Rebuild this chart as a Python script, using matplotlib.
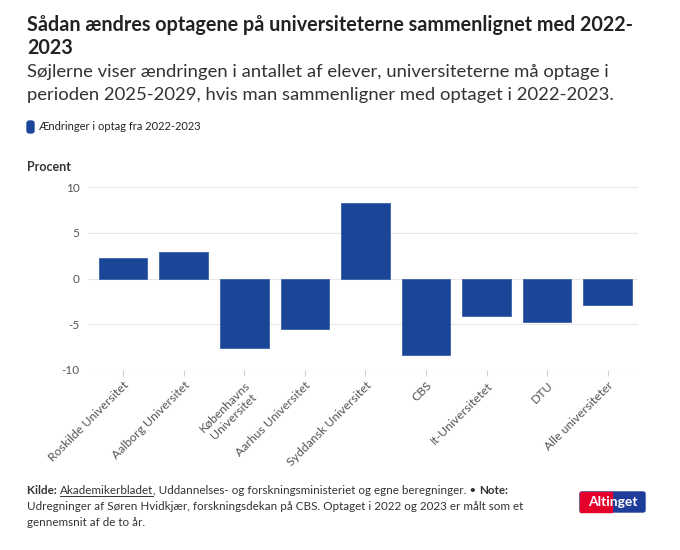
import matplotlib
matplotlib.use('Agg')
import matplotlib.pyplot as plt
from matplotlib.patches import Rectangle, FancyBboxPatch
from matplotlib.lines import Line2D

plt.rcParams['font.family'] = ['Lato', 'DejaVu Sans']

# data
categories = ['Roskilde Universitet', 'Aalborg Universitet', 'Københavns\nUniversitet',
              'Aarhus Universitet', 'Syddansk Universitet', 'CBS', 'It-Universitetet',
              'DTU', 'Alle universiteter']
values = [2.2, 2.9, -7.6, -5.5, 8.3, -8.4, -4.1, -4.8, -2.85]
yticks = [-10, -5, 0, 5, 10]

BAR = '#1b4698'
DARK = '#222222'
GREY = '#555555'

W, H = 680, 550
fig = plt.figure(figsize=(W / 100, H / 100), dpi=100)


def fx(px):
    return px / W


def fy(py):
    return 1 - py / H


# header
fig.text(fx(27), fy(25), 'Sådan ændres optagene på universiteterne sammenlignet med 2022-',
         fontsize=14.2, fontweight='bold', color=DARK, va='center')
fig.text(fx(27), fy(48), '2023', fontsize=14.2, fontweight='bold', color=DARK, va='center')
fig.text(fx(27), fy(72), 'Søjlerne viser ændringen i antallet af elever, universiteterne må optage i',
         fontsize=13.3, color='#333333', va='center')
fig.text(fx(27), fy(95), 'perioden 2025-2029, hvis man sammenligner med optaget i 2022-2023.',
         fontsize=13.3, color='#333333', va='center')

# legend
fig.patches.append(FancyBboxPatch((fx(27), fy(133)), fx(7), 12 / H,
                                  boxstyle='round,pad=0,rounding_size=0.004',
                                  transform=fig.transFigure, color=BAR))
fig.text(fx(38), fy(127), 'Ændringer i optag fra 2022-2023', fontsize=8, color=DARK, va='center')

fig.text(fx(27), fy(167), 'Procent', fontsize=9, fontweight='bold', color='#333333', va='center')

# plot
ax = fig.add_axes([fx(88), fy(370), fx(638 - 88), (370 - 187) / H])
x = range(len(categories))
ax.bar(x, values, width=0.8, color=BAR, edgecolor='#3a5fa8', linewidth=0.6, zorder=3)
ax.set_ylim(-10, 10)
ax.set_xlim(-0.58, len(categories) - 0.5)
ax.set_yticks(yticks)
ax.set_yticklabels([str(v) for v in yticks])
ax.grid(axis='y', color='#e8e8e8', linewidth=0.8, zorder=0)
for s in ax.spines.values():
    s.set_visible(False)
ax.tick_params(axis='y', length=0, labelsize=8.5, labelcolor=GREY, pad=6)
ax.tick_params(axis='x', length=4, color='#d0d0d0', labelsize=8.8, labelcolor=GREY, pad=3)
ax.set_xticks(list(x))
ax.set_xticklabels(categories, rotation=45, ha='right', rotation_mode='anchor', multialignment='center')

# footer
fig.canvas.draw()
r = fig.canvas.get_renderer()
pieces = [('Kilde: ', 'bold', False), ('Akademikerbladet', 'normal', True),
          (', Uddannelses- og forskningsministeriet og egne beregninger. • ', 'normal', False),
          ('Note:', 'bold', False)]
xp = 27
for txt, wt, ul in pieces:
    t = fig.text(fx(xp), fy(490), txt, fontsize=8.4, fontweight=wt, color='#333333', va='center')
    bb = t.get_window_extent(r)
    if ul:
        fig.lines.append(Line2D([fx(xp), fx(xp + bb.width)], [fy(496), fy(496)],
                                transform=fig.transFigure, color='#333333', lw=0.7))
    xp += bb.width
fig.text(fx(27), fy(507), 'Udregninger af Søren Hvidkjær, forskningsdekan på CBS. Optaget i 2022 og 2023 er målt som et',
         fontsize=8.4, color='#333333', va='center')
fig.text(fx(27), fy(523), 'gennemsnit af de to år.', fontsize=8.4, color='#333333', va='center')

# logo
fig.patches.append(FancyBboxPatch((fx(580), fy(512)), fx(65), 20 / H,
                                  boxstyle='round,pad=0,rounding_size=0.003',
                                  transform=fig.transFigure, color='#1e3c9a'))
fig.patches.append(Rectangle((fx(580), fy(512)), fx(32), 20 / H, transform=fig.transFigure,
                             color='#e4002b'))
fig.text(fx(612.5), fy(502), 'Altinget', fontsize=10, fontweight='bold', color='white',
         ha='center', va='center')

fig.savefig('out.png', dpi=100)
